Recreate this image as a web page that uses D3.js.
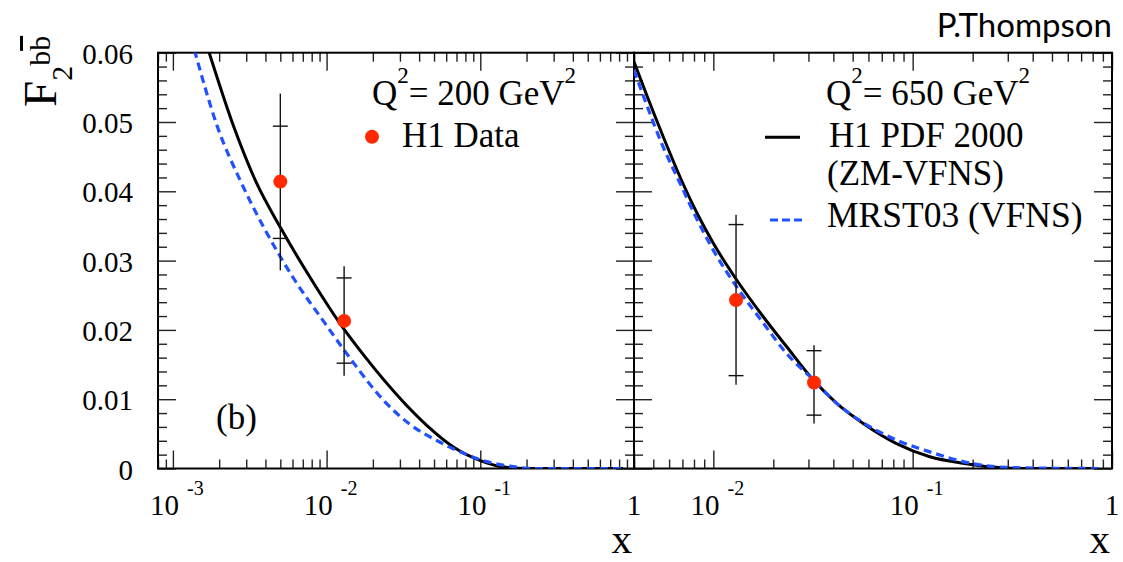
<!DOCTYPE html>
<html lang="en">
<head>
<meta charset="UTF-8">
<title>F2 bb</title>
<script src="https://d3js.org/d3.v7.min.js"></script>
<style>
  body { margin: 0; background: #fff; }
  svg { display: block; font-family: "Liberation Serif", "Times New Roman", serif; }
  .tick line { stroke: #222; stroke-width: 1.4; }
</style>
</head>
<body>
<svg width="1123" height="562"></svg>
<script>
// H1 data points
const q2Values = [200, 650];
const x200 = [0.005, 0.013];
const f200 = [0.0414, 0.0213];
const stat200 = [[0.0332, 0.0494], [0.0152, 0.0275]];
const tot200 = [[0.0286, 0.0541], [0.0134, 0.0292]];
const x650 = [0.013, 0.032];
const f650 = [0.0243, 0.0124];
const stat650 = [[0.0134, 0.0352], [0.0077, 0.0170]];
const tot650 = [[0.0121, 0.0366], [0.0065, 0.0178]];

// H1 PDF 2000 (solid) and MRST03 (dashed) curves
const h1X200 = [0.0017, 0.0025, 0.0035, 0.005, 0.008, 0.0126, 0.0178, 0.0316, 0.045, 0.068, 0.1, 0.14, 0.2, 0.85];
const h1Y200 = [0.0604, 0.0492, 0.0412, 0.0348, 0.0272, 0.0205, 0.0161, 0.0096, 0.0062, 0.0030, 0.00115, 0.00025, 0.0, 0.0];
const mrstX200 = [0.00138, 0.00195, 0.00275, 0.0039, 0.0062, 0.0098, 0.0138, 0.0245, 0.0347, 0.0525, 0.0776, 0.11, 0.16, 0.22, 0.85];
const mrstY200 = [0.0604, 0.0493, 0.0415, 0.0348, 0.0272, 0.0209, 0.0163, 0.0094, 0.0064, 0.0040, 0.0022, 0.0010, 0.0003, 0.0, 0.0];
const curveX650 = [0.004, 0.0046, 0.0056, 0.0068, 0.0083, 0.01, 0.0131, 0.0178, 0.0233, 0.0317, 0.0416, 0.0565, 0.083, 0.122, 0.179, 0.25, 0.35, 0.85];
const h1Y650 = [0.0587, 0.0541, 0.0479, 0.0421, 0.0368, 0.0325, 0.0272, 0.0219, 0.0176, 0.0128, 0.0094, 0.0065, 0.0036, 0.0017, 0.00075, 0.0002, 0.0, 0.0];
const mrstY650 = [0.0575, 0.0527, 0.0464, 0.0412, 0.0359, 0.0315, 0.0262, 0.0210, 0.0166, 0.0128, 0.0094, 0.0066, 0.0041, 0.0024, 0.0010, 0.0003, 0.0001, 0.0];

// tick labels
const yTickVals = [0, 0.01, 0.02, 0.03, 0.04, 0.05, 0.06];
const yTickLabels = ["0", "0.01", "0.02", "0.03", "0.04", "0.05", "0.06"];
const xTicksLeft = [0.001, 0.01, 0.1, 1];
const xLabelsLeft = [["10", "-3"], ["10", "-2"], ["10", "-1"], ["1", ""]];
const xTicksRight = [0.01, 0.1, 1];
const xLabelsRight = [["10", "-2"], ["10", "-1"], ["1", ""]];

const svg = d3.select("svg");
const yTop = 52.7, yBot = 468.5;
const mid = 634;

const y = d3.scaleLinear().domain([0, 0.06]).range([yBot, yTop]);
const xL = d3.scaleLog().domain([0.0008, 1]).range([158, mid]);
const xR = d3.scaleLog().domain([0.004, 1]).range([mid, 1112]);

const red = "#ff2a00", blue = "#2050ff";

function drawPanel(x, id, opts) {
  const g = svg.append("g");
  const [x0, x1] = x.range();

  g.append("clipPath").attr("id", id)
    .append("rect").attr("x", x0).attr("y", yTop).attr("width", x1 - x0).attr("height", yBot - yTop);

  const all = x.ticks();
  const major = all.filter(v => Math.abs(Math.log10(v) - Math.round(Math.log10(v))) < 1e-6);
  const minor = all.filter(v => !major.includes(v));
  const yMinor = d3.range(0, 0.0601, 0.002).filter(v => !yTickVals.some(t => Math.abs(t - v) < 1e-6));

  const axes = [
    [d3.axisBottom(x), `translate(0,${yBot})`, "x"],
    [d3.axisTop(x), `translate(0,${yTop})`, "x"],
  ];
  if (opts.leftTicks) axes.push([d3.axisLeft(y), `translate(${x0},0)`, "y"]);
  if (opts.rightTicks) axes.push([d3.axisRight(y), `translate(${x1},0)`, "y"]);

  axes.forEach(([ax, tr, kind]) => {
    const mj = kind === "x" ? major : yTickVals;
    const mn = kind === "x" ? minor : yMinor;
    g.append("g").attr("transform", tr)
      .call(ax.tickValues(mn).tickSize(-9).tickFormat("").tickSizeOuter(0))
      .call(s => s.select(".domain").remove());
    g.append("g").attr("transform", tr)
      .call(ax.tickValues(mj).tickSize(-18).tickFormat("").tickSizeOuter(0))
      .call(s => s.select(".domain").remove());
  });

  g.append("rect")
    .attr("x", x0).attr("y", yTop).attr("width", x1 - x0).attr("height", yBot - yTop)
    .attr("fill", "none").attr("stroke", "#000").attr("stroke-width", 2);

  const line = d3.line().x(d => x(d[0])).y(d => y(d[1])).curve(d3.curveMonotoneX);
  const plot = g.append("g").attr("clip-path", `url(#${id})`);
  plot.append("path")
    .attr("d", line(d3.zip(opts.h1X, opts.h1Y)))
    .attr("fill", "none").attr("stroke", "#000").attr("stroke-width", 3);
  plot.append("path")
    .attr("d", line(d3.zip(opts.mrstX, opts.mrstY)))
    .attr("fill", "none").attr("stroke", blue).attr("stroke-width", 3.2)
    .attr("stroke-dasharray", "8,5");

  // data with errors
  opts.dx.forEach((xv, i) => {
    const px = x(xv);
    g.append("line").attr("x1", px).attr("x2", px)
      .attr("y1", y(opts.tot[i][0])).attr("y2", y(opts.tot[i][1]))
      .attr("stroke", "#111").attr("stroke-width", 1.4);
    opts.stat[i].forEach(s => {
      g.append("line").attr("x1", px - 7.5).attr("x2", px + 7.5)
        .attr("y1", y(s)).attr("y2", y(s))
        .attr("stroke", "#111").attr("stroke-width", 1.4);
    });
    g.append("circle").attr("cx", px).attr("cy", y(opts.dy[i])).attr("r", 7).attr("fill", red);
  });

  // x tick labels
  opts.xTicks.forEach((v, i) => {
    const lab = opts.xLabels[i];
    const t = g.append("text")
      .attr("x", x(v) + (lab[1] ? 4 : 0)).attr("y", 515)
      .attr("text-anchor", "middle").attr("font-size", 29);
    t.append("tspan").text(lab[0]);
    if (lab[1]) t.append("tspan").attr("dx", 8).attr("dy", -20).attr("font-size", 20).text(lab[1]);
  });

  g.append("text").attr("x", x1 - 2).attr("y", 553)
    .attr("text-anchor", "end").attr("font-size", 41).text("x");

  // Q2 label
  const q = g.append("text").attr("x", opts.qx).attr("y", 105).attr("font-size", 35);
  q.append("tspan").text("Q");
  q.append("tspan").attr("dy", -22).attr("font-size", 23).text("2");
  q.append("tspan").attr("dy", 22).text(`= ${opts.q2} GeV`);
  q.append("tspan").attr("dy", -22).attr("font-size", 23).text("2");
  return g;
}

const gL = drawPanel(xL, "clipL", {
  leftTicks: true, rightTicks: true,
  h1X: h1X200, h1Y: h1Y200, mrstX: mrstX200, mrstY: mrstY200,
  dx: x200, dy: f200, stat: stat200, tot: tot200,
  xTicks: xTicksLeft, xLabels: xLabelsLeft, qx: 372, q2: q2Values[0]
});
const gR = drawPanel(xR, "clipR", {
  leftTicks: true, rightTicks: true,
  h1X: curveX650, h1Y: h1Y650, mrstX: curveX650, mrstY: mrstY650,
  dx: x650, dy: f650, stat: stat650, tot: tot650,
  xTicks: xTicksRight, xLabels: xLabelsRight, qx: 826, q2: q2Values[1]
});

// y tick labels
yTickVals.forEach((v, i) => {
  svg.append("text").attr("x", 133).attr("y", y(v) + 11)
    .attr("text-anchor", "end").attr("font-size", 29).text(yTickLabels[i]);
});

// y title
const yt = svg.append("text").attr("transform", "translate(56,107) rotate(-90)").attr("font-size", 47);
yt.append("tspan").text("F");
yt.append("tspan").attr("dy", 16).attr("font-size", 30).text("2");
yt.append("tspan").attr("dy", -22).attr("font-size", 30).text("b");
yt.append("tspan").attr("font-size", 30).attr("text-decoration", "overline").text("b");

// legends
gL.append("circle").attr("cx", 372).attr("cy", 136.7).attr("r", 7).attr("fill", red);
gL.append("text").attr("x", 402).attr("y", 146.7).attr("font-size", 35).text("H1 Data");
gL.append("text").attr("x", 216).attr("y", 429).attr("font-size", 35).text("(b)");

gR.append("line").attr("x1", 765).attr("x2", 800).attr("y1", 137.3).attr("y2", 137.3)
  .attr("stroke", "#000").attr("stroke-width", 3);
gR.append("text").attr("x", 829).attr("y", 146.7).attr("font-size", 35).text("H1 PDF 2000");
gR.append("text").attr("x", 827).attr("y", 185).attr("font-size", 35).text("(ZM-VFNS)");
gR.append("line").attr("x1", 770).attr("x2", 802).attr("y1", 220).attr("y2", 220)
  .attr("stroke", blue).attr("stroke-width", 3.2).attr("stroke-dasharray", "8,4");
gR.append("text").attr("x", 827).attr("y", 226.7).attr("font-size", 35.5).text("MRST03 (VFNS)");

svg.append("text").attr("x", 1112).attr("y", 37).attr("text-anchor", "end")
  .attr("font-family", "Lato, sans-serif").attr("font-size", 33).text("P.Thompson");
</script>
</body>
</html>
